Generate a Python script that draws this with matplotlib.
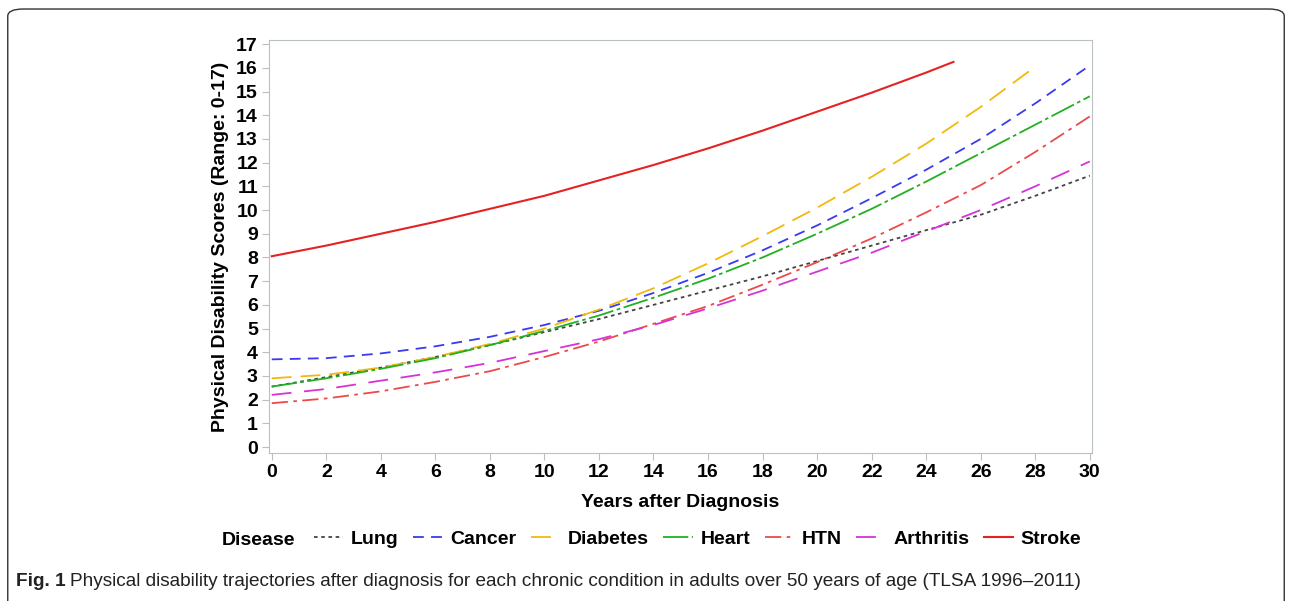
import numpy as np
import matplotlib.pyplot as plt
from matplotlib.patches import FancyBboxPatch

plt.rcParams['font.family'] = ['Liberation Sans', 'DejaVu Sans']

# years after diagnosis (read at every 2 years)
years = np.arange(0, 31, 2)
years_stroke = np.array([0, 2, 4, 6, 8, 10, 12, 14, 16, 18, 20, 22, 24, 25])
years_diab = np.arange(0, 29, 2)

lung = [2.55, 2.95, 3.35, 3.8, 4.3, 4.85, 5.4, 6.0, 6.6, 7.2, 7.85, 8.5, 9.15, 9.8, 10.6, 11.45]
cancer = [3.7, 3.75, 3.95, 4.25, 4.65, 5.15, 5.75, 6.5, 7.35, 8.3, 9.35, 10.5, 11.7, 13.0, 14.5, 16.1]
diabetes = [2.9, 3.05, 3.35, 3.8, 4.35, 5.0, 5.8, 6.7, 7.75, 8.9, 10.1, 11.4, 12.8, 14.35, 16.05]
heart = [2.55, 2.9, 3.3, 3.75, 4.3, 4.9, 5.55, 6.3, 7.1, 8.0, 9.0, 10.05, 11.2, 12.4, 13.6, 14.8]
htn = [1.85, 2.05, 2.35, 2.75, 3.2, 3.8, 4.45, 5.2, 5.95, 6.85, 7.8, 8.8, 9.9, 11.05, 12.45, 13.95]
arthritis = [2.2, 2.45, 2.8, 3.15, 3.55, 4.05, 4.55, 5.15, 5.85, 6.6, 7.4, 8.2, 9.1, 10.0, 11.0, 12.05]
stroke = [8.05, 8.5, 9.0, 9.5, 10.05, 10.6, 11.25, 11.9, 12.6, 13.35, 14.15, 14.95, 15.8, 16.25]

fig = plt.figure(figsize=(12.92, 6.01), dpi=100)

# rounded frame around the whole figure
frame = FancyBboxPatch((0.006, -0.02), 0.988, 1.005, boxstyle="round,pad=0,rounding_size=0.012",
                       transform=fig.transFigure, fill=False, edgecolor="#333333", linewidth=1.0)
fig.patches.append(frame)

ax = fig.add_axes([0.2082, 0.2463, 0.637, 0.687])

ax.plot(years, lung, color="#444444", lw=1.3, dashes=(2, 2), label="Lung")
ax.plot(years, cancer, color="#3a3aee", lw=1.3, dashes=(6, 4), label="Cancer")
ax.plot(years_diab, diabetes, color="#f2b90c", lw=1.3, dashes=(11, 5), label="Diabetes")
ax.plot(years, heart, color="#22b022", lw=1.3, dashes=(14, 2, 2, 2), label="Heart")
ax.plot(years, htn, color="#ec4a4a", lw=1.3, dashes=(9, 3, 2, 3), label="HTN")
ax.plot(years, arthritis, color="#d633d6", lw=1.3, dashes=(11, 7), label="Arthritis")
ax.plot(years_stroke, stroke, color="#e42222", lw=1.5, label="Stroke")

ax.set_xlim(-0.1, 30.08)
ax.set_ylim(-0.25, 17.17)
ax.set_xticks(range(0, 31, 2))
ax.set_yticks(range(0, 18))
for s in ax.spines.values():
    s.set_color("#b8c0c4")
ax.tick_params(colors="#b8c0c4", labelcolor="black", labelsize=14, length=5, pad=3)
for lab in ax.get_xticklabels() + ax.get_yticklabels():
    lab.set_fontweight("bold")
ax.set_xlabel("Years after Diagnosis", fontsize=14, fontweight="bold", labelpad=9)
ax.set_ylabel("Physical Disability Scores (Range: 0-17)", fontsize=14, fontweight="bold", labelpad=5)

fig.text(0.172, 0.1, "Disease", fontsize=14, fontweight="bold", va="center")
handles, labels = ax.get_legend_handles_labels()
fig.legend(handles, labels, loc="center left", bbox_to_anchor=(0.243, 0.103), ncol=7, frameon=False,
           prop={"size": 14, "weight": "bold"}, handlelength=1.5, handletextpad=0.4, columnspacing=0.75,
           borderpad=0, borderaxespad=0)

fig.text(0.012, 0.033, "Fig. 1", fontsize=13.7, fontweight="bold", color="#222222",
         family=["Liberation Sans Narrow", "Liberation Sans"], va="center")
fig.text(0.0545, 0.033, "Physical disability trajectories after diagnosis for each chronic condition in adults over 50 years of age (TLSA 1996\u20132011)",
         fontsize=13.7, color="#222222", family=["Liberation Sans Narrow", "Liberation Sans"], va="center")

fig.savefig("out.png", dpi=100)
